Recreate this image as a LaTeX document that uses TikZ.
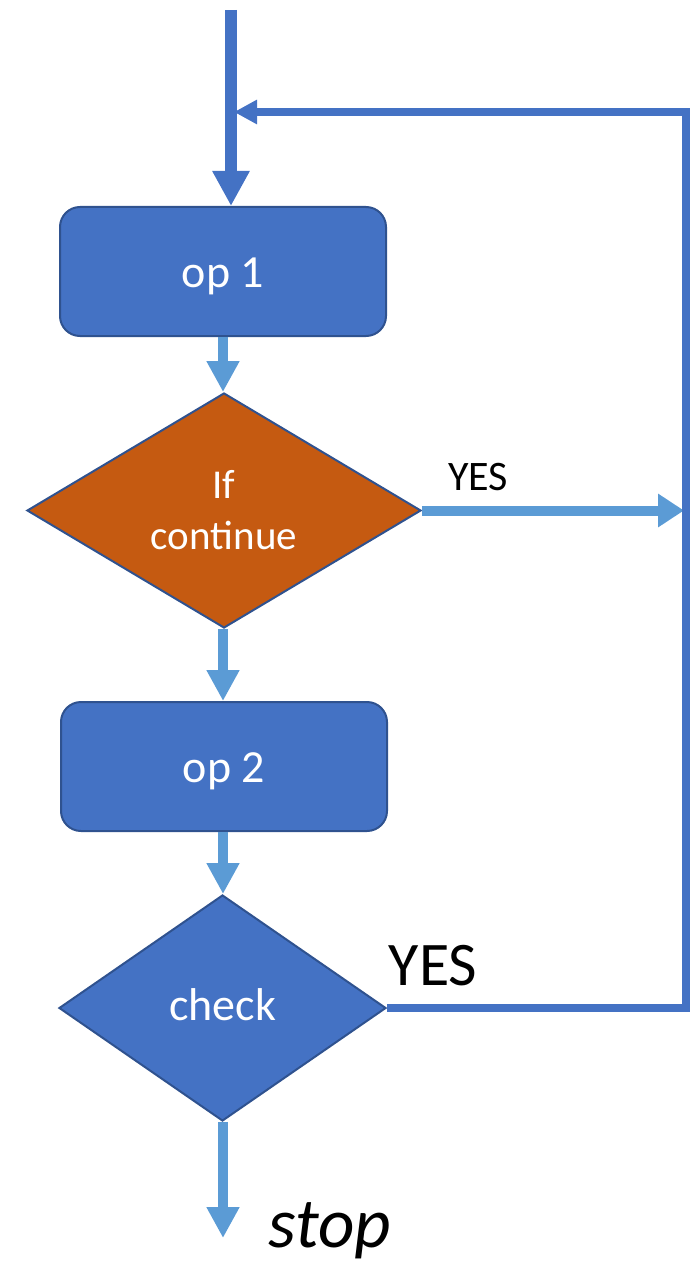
\documentclass[tikz,border=0pt]{standalone}
\usepackage{fontspec}
\setmainfont{Carlito}
\usetikzlibrary{shapes.geometric,arrows.meta}
\definecolor{dblue}{HTML}{4472C4}
\definecolor{bline}{HTML}{2F528F}
\definecolor{lblue}{HTML}{5B9BD5}
\definecolor{orng}{HTML}{C55A11}
\tikzset{
  opbox/.style={draw=bline, line width=2pt, fill=dblue, rounded corners=20pt,
    minimum width=326pt, minimum height=129pt, inner sep=0pt, text=white,
    font=\fontsize{46}{55}\selectfont, text height=31pt, text depth=0pt},
  dia/.style={diamond, draw=bline, line width=2pt, inner sep=0pt, text=white, align=center},
  flow/.style={draw=lblue, line width=10.5pt, -{Triangle[width=31pt,length=31pt]}},
  main/.style={draw=dblue, line width=12pt, -{Triangle[width=35pt,length=35pt]}},
  loop/.style={draw=dblue, line width=8pt, -{Triangle[width=23pt,length=23pt]}},
  yesarrow/.style={draw=lblue, line width=10pt, -{Triangle[width=32pt,length=26pt]}},
  lbl/.style={text=black, inner sep=0pt}
}
\begin{document}
\begin{tikzpicture}[x=1pt,y=-1pt]
\useasboundingbox (0,0) rectangle (700,1265);
\node[opbox] (op1) at (223,271.5) {op 1};
\node[dia, fill=orng, minimum width=394pt, minimum height=235pt,
  font=\fontsize{41}{51}\selectfont] (d1) at (224,510.5) {If\\continue};
\node[opbox] (op2) at (224,766.5) {op 2};
\node[dia, fill=dblue, minimum width=327pt, minimum height=226pt,
  font=\fontsize{46}{55}\selectfont, text height=24pt, text depth=0pt] (chk) at (222.5,1008) {check};
\coordinate (top) at (231,10);
\coordinate (col) at (223,0);
\coordinate (rt) at (686,0);
\coordinate (loopy) at (0,112);
\coordinate (stopend) at (223,1238);
\node[lbl, font=\fontsize{42}{50}\selectfont] (yes1) at (478,477) {YES};
\node[lbl, font=\fontsize{62}{74}\selectfont] (yes2) at (433,966) {YES};
\node[lbl, anchor=base, font=\itshape\fontsize{71}{85}\selectfont] (stop) at (330,1247) {stop};
% connectors
\draw[main] (top) -- (top |- op1.north);
\draw[flow] (col |- op1.south) -- (col |- d1.north);
\draw[flow] (col |- d1.south) -- (col |- op2.north);
\draw[flow] (col |- op2.south) -- (col |- chk.north);
\draw[flow] (col |- chk.south) -- (stopend);
\draw[yesarrow] (d1.east) -- ([xshift=-2pt]rt |- d1.east);
\draw[loop, line join=miter] (chk.east) -- (rt |- chk.east) -- (rt |- loopy) -- ([xshift=3pt]top |- loopy);
\end{tikzpicture}
\end{document}
